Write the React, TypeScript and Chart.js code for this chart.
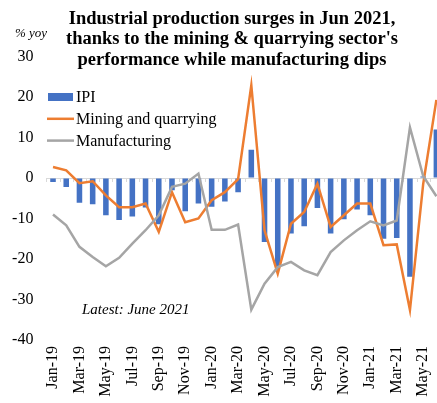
import React, { useEffect, useRef } from "react";
import { Chart, registerables } from "chart.js";

Chart.register(...registerables);

const months = [
  "Jan-19", "Feb-19", "Mar-19", "Apr-19", "May-19", "Jun-19", "Jul-19", "Aug-19", "Sep-19", "Oct-19", "Nov-19", "Dec-19",
  "Jan-20", "Feb-20", "Mar-20", "Apr-20", "May-20", "Jun-20", "Jul-20", "Aug-20", "Sep-20", "Oct-20", "Nov-20", "Dec-20",
  "Jan-21", "Feb-21", "Mar-21", "Apr-21", "May-21", "Jun-21",
];

const ipi = [
  -1.0, -2.2, -6.1, -6.5, -9.2, -10.4, -9.5, -7.3, -11.4, -3.0, -8.2, -6.3,
  -7.1, -5.8, -3.5, 7.0, -15.8, -22.0, -13.7, -11.9, -7.4, -13.7, -10.2, -7.8,
  -9.2, -15.0, -14.8, -24.4, 0.4, 12.0,
];

const mining = [
  2.7, 1.9, -1.3, -0.8, -4.3, -7.2, -7.2, -6.3, -13.3, -3.5, -10.9, -10.0,
  -5.5, -3.5, -0.3, 22.9, -12.9, -23.6, -11.3, -8.4, -1.4, -12.1, -9.2, -6.3,
  -6.3, -16.6, -16.4, -32.6, -1.5, 19.3,
];

const manufacturing = [
  -9.0, -11.7, -17.0, -19.5, -21.8, -19.7, -16.2, -12.9, -9.2, -2.2, -1.4, 1.1,
  -12.8, -12.8, -11.5, -32.5, -26.1, -22.0, -20.7, -22.8, -24.0, -18.3, -15.4, -12.9,
  -10.7, -11.7, -10.5, 12.5, 0.5, -4.5,
];

const seriesNames = ["IPI", "Mining and quarrying", "Manufacturing"];
const yMin = -40;
const yMax = 30;
const yStep = 10;

const titleLines = [
  "Industrial production surges in Jun 2021,",
  "thanks to the mining & quarrying sector's",
  "performance while manufacturing dips",
];
const unitLabel = "% yoy";
const noteLabel = "Latest: June 2021";

const SERIF = '"Liberation Serif", "Times New Roman", Times, serif';
const BLUE = "#4472C4";
const ORANGE = "#ED7D31";
const GRAY = "#A5A5A5";

const overlayPlugin = {
  id: "overlay",
  beforeDatasetsDraw(chart: any) {
    const { ctx, scales } = chart;
    const xs = scales.x;
    const y0 = scales.y.getPixelForValue(0);
    const step = xs.getPixelForValue(1) - xs.getPixelForValue(0);
    ctx.save();
    ctx.strokeStyle = "#D9D9D9";
    ctx.lineWidth = 1;
    ctx.beginPath();
    for (let i = 0; i <= months.length; i++) {
      const px = Math.round(xs.getPixelForValue(i) - step / 2) + 0.5;
      ctx.moveTo(px, y0);
      ctx.lineTo(px, y0 + 4);
    }
    ctx.stroke();
    ctx.restore();
  },
  afterDraw(chart: any) {
    const { ctx } = chart;
    ctx.save();
    ctx.fillStyle = "#000";
    // title
    ctx.font = `bold 18.5px ${SERIF}`;
    ctx.textAlign = "center";
    ctx.textBaseline = "middle";
    titleLines.forEach((t, i) => ctx.fillText(t, 232, 19 + i * 20.6));
    // unit label
    ctx.font = `italic 13px ${SERIF}`;
    ctx.textAlign = "left";
    ctx.fillText(unitLabel, 15, 34);
    // note
    ctx.font = `italic 15px ${SERIF}`;
    ctx.fillText(noteLabel, 82, 310);
    // legend
    ctx.font = `16px ${SERIF}`;
    chart.data.datasets.forEach((ds: any, i: number) => {
      const y = 97 + i * 21.8;
      if (ds.type === "bar") {
        ctx.fillStyle = ds.backgroundColor;
        ctx.fillRect(48, y - 4, 25, 8);
      } else {
        ctx.strokeStyle = ds.borderColor;
        ctx.lineWidth = 2.5;
        ctx.beginPath();
        ctx.moveTo(47, y);
        ctx.lineTo(74, y);
        ctx.stroke();
      }
      ctx.fillStyle = "#000";
      ctx.fillText(ds.label, 76, y + 1);
    });
    ctx.restore();
  },
};

export default function App() {
  const canvasRef = useRef<HTMLCanvasElement | null>(null);

  useEffect(() => {
    if (!canvasRef.current) return;
    const chart = new Chart(canvasRef.current, {
      type: "bar",
      data: {
        labels: months,
        datasets: [
          {
            type: "bar",
            label: seriesNames[0],
            data: ipi,
            backgroundColor: BLUE,
            borderWidth: 0,
            categoryPercentage: 1,
            barPercentage: 0.42,
            order: 3,
          },
          {
            type: "line",
            label: seriesNames[1],
            data: mining,
            borderColor: ORANGE,
            backgroundColor: ORANGE,
            borderWidth: 2.5,
            pointRadius: 0,
            tension: 0,
            order: 2,
          },
          {
            type: "line",
            label: seriesNames[2],
            data: manufacturing,
            borderColor: GRAY,
            backgroundColor: GRAY,
            borderWidth: 2.5,
            pointRadius: 0,
            tension: 0,
            order: 1,
          },
        ] as any,
      },
      options: {
        responsive: false,
        animation: false,
        layout: { padding: { top: 56.5, left: 0, right: 0, bottom: 0 } },
        plugins: {
          legend: { display: false },
          title: { display: false },
          tooltip: { enabled: false },
        },
        scales: {
          x: {
            offset: true,
            grid: { display: false, drawTicks: false },
            border: { display: false },
            ticks: {
              autoSkip: false,
              minRotation: 90,
              maxRotation: 90,
              padding: 6,
              color: "#000",
              font: { family: SERIF, size: 16 },
              callback: (_v: any, i: number) => (i % 2 === 0 ? months[i] : ""),
            },
            afterFit: (s: any) => {
              s.height = 63;
              s.paddingLeft = 0;
              s.paddingRight = 0;
            },
          },
          y: {
            min: yMin,
            max: yMax,
            grid: {
              drawTicks: false,
              color: (c: any) => (c.tick && c.tick.value === 0 ? "#D9D9D9" : "rgba(0,0,0,0)"),
              lineWidth: 1,
            },
            border: { display: false },
            ticks: {
              stepSize: yStep,
              padding: 13,
              color: "#000",
              font: { family: SERIF, size: 16 },
            },
            afterFit: (s: any) => {
              s.width = 46.4;
            },
          },
        },
      },
      plugins: [overlayPlugin],
    } as any);
    return () => chart.destroy();
  }, []);

  return (
    <div
      style={{
        position: "fixed",
        left: 0,
        top: 0,
        width: 437,
        height: 403,
        overflow: "hidden",
        background: "#fff",
      }}
    >
      <canvas ref={canvasRef} width={443} height={403} style={{ display: "block", width: 443, height: 403 }} />
    </div>
  );
}
